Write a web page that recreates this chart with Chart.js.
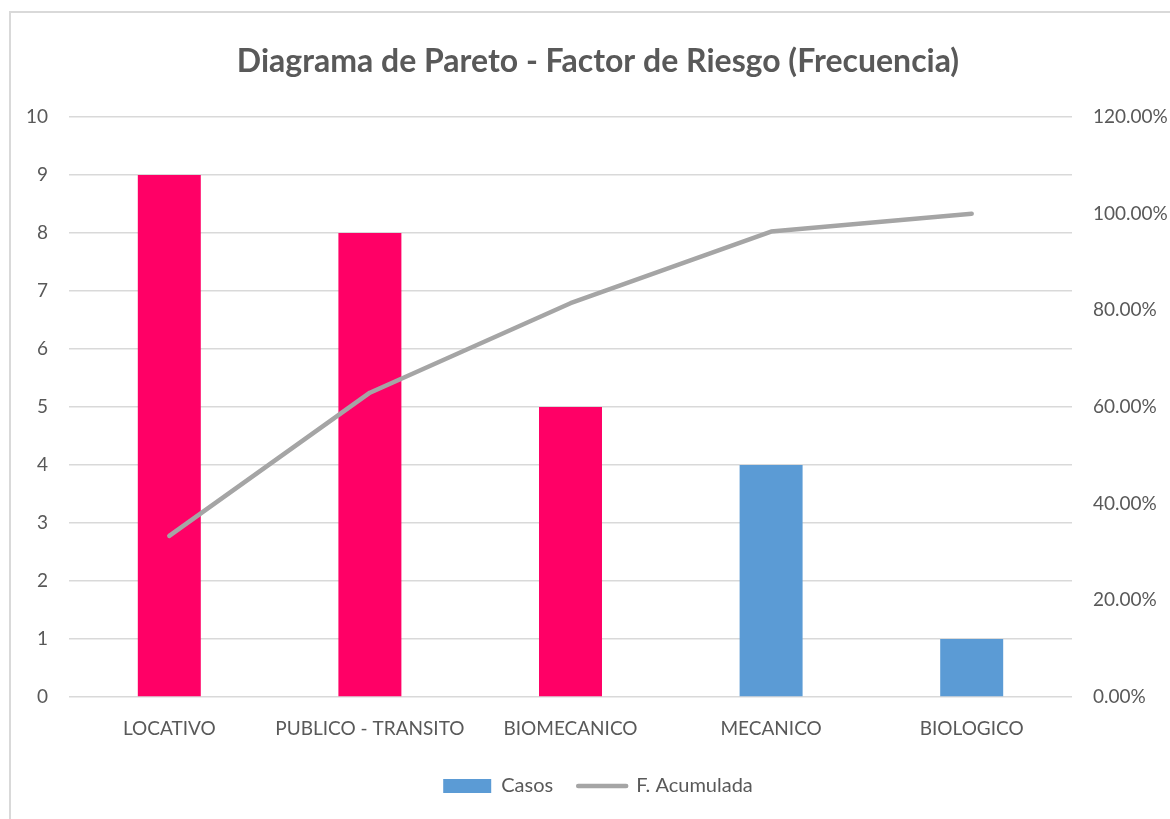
<!DOCTYPE html>
<html>
<head>
<meta charset="utf-8">
<script src="https://cdn.jsdelivr.net/npm/chart.js@4/dist/chart.umd.min.js"></script>
<style>
  html, body { margin: 0; padding: 0; background: #fff; overflow: hidden; }
  #frame { position: absolute; left: 9px; top: 11px; width: 1300px; height: 900px; border: 2px solid #d9d9d9; }
  #wrap { position: absolute; left: 0; top: 0; width: 1170px; height: 819px; }
</style>
</head>
<body>
<div id="frame"></div>
<div id="wrap"><canvas id="pareto"></canvas></div>
<script>
// Pareto data
const categories = ['LOCATIVO', 'PUBLICO - TRANSITO', 'BIOMECANICO', 'MECANICO', 'BIOLOGICO'];
const casos = [9, 8, 5, 4, 1];
const acumulada = [33.33, 62.96, 81.48, 96.30, 100.00];
const barColors = ['#FF0066', '#FF0066', '#FF0066', '#5B9BD5', '#5B9BD5'];

const textColor = '#595959';
const gridColor = '#d9d9d9';
Chart.defaults.font.family = "'Lato', sans-serif";
Chart.defaults.color = textColor;

new Chart(document.getElementById('pareto'), {
    type: 'bar',
    data: {
        labels: categories,
        datasets: [{
            label: 'Casos',
            data: casos,
            backgroundColor: barColors,
            barPercentage: 0.314,
            categoryPercentage: 1,
            yAxisID: 'y',
            order: 2
        }, {
            type: 'line',
            label: 'F. Acumulada',
            data: acumulada,
            borderColor: '#A5A5A5',
            backgroundColor: '#A5A5A5',
            borderWidth: 4.5,
            borderCapStyle: 'round',
            borderJoinStyle: 'round',
            pointRadius: 0,
            tension: 0,
            yAxisID: 'y1',
            order: 1
        }]
    },
    options: {
        responsive: true,
        maintainAspectRatio: false,
        animation: false,
        layout: { padding: { left: 26, right: 0, top: 0, bottom: 13 } },
        plugins: {
            title: {
                display: true,
                text: 'Diagrama de Pareto - Factor de Riesgo (Frecuencia)',
                color: textColor,
                font: { size: 32, weight: 'bold' },
                padding: { top: 42, bottom: 36.6 }
            },
            legend: {
                position: 'bottom',
                labels: {
                    usePointStyle: true,
                    pointStyleWidth: 48,
                    boxHeight: 14,
                    padding: 25,
                    color: textColor,
                    font: { size: 20 },
                    generateLabels: function(chart) {
                        return [{
                            text: 'Casos', fillStyle: '#5B9BD5', strokeStyle: '#5B9BD5',
                            lineWidth: 0, pointStyle: 'rect', datasetIndex: 0, fontColor: textColor
                        }, {
                            text: 'F. Acumulada', fillStyle: '#A5A5A5', strokeStyle: '#A5A5A5',
                            lineWidth: 4.5, lineCap: 'round', pointStyle: 'line', datasetIndex: 1, fontColor: textColor
                        }];
                    }
                }
            },
            tooltip: { enabled: false }
        },
        scales: {
            x: {
                grid: { display: false },
                border: { display: false },
                ticks: { padding: 12, font: { size: 19 }, color: textColor, maxRotation: 0 },
                afterFit: function(scale) { scale.height = 54; }
            },
            y: {
                position: 'left',
                min: 0,
                max: 10,
                ticks: { stepSize: 1, padding: 21, font: { size: 19 }, color: textColor },
                grid: { color: gridColor, lineWidth: 1.5, drawTicks: false },
                border: { display: false },
                afterFit: function(scale) { scale.width = 43; }
            },
            y1: {
                position: 'right',
                min: 0,
                max: 120,
                ticks: {
                    stepSize: 20, padding: 21, font: { size: 19 }, color: textColor,
                    callback: function(value) { return value.toFixed(2) + '%'; }
                },
                grid: { display: false, drawTicks: false },
                border: { display: false },
                afterFit: function(scale) { scale.width = 98; }
            }
        }
    }
});
</script>
</body>
</html>
